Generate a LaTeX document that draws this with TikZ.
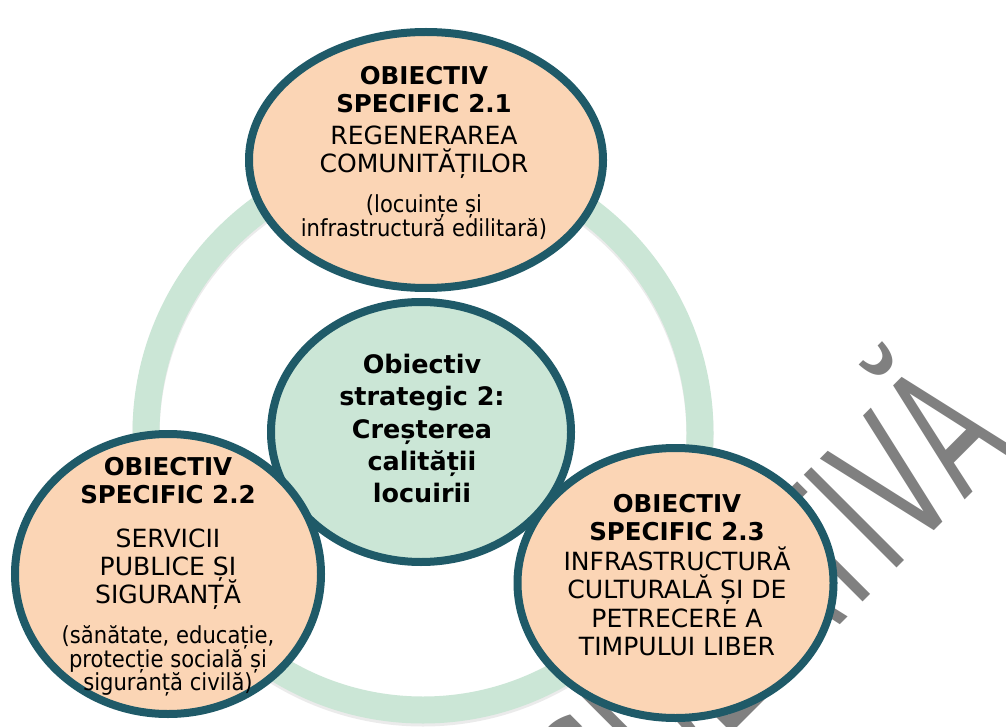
\documentclass[tikz,border=0pt]{standalone}
\usepackage{fontspec}
\usepackage{graphicx}
\setmainfont{DejaVu Sans}
\newfontfamily\condf{DejaVu Sans Condensed}
\usetikzlibrary{shapes.geometric,shadows}
\definecolor{bordc}{HTML}{1F5A68}
\definecolor{peach}{HTML}{FBD5B5}
\definecolor{mint}{HTML}{CBE6D6}
\definecolor{wmgray}{HTML}{808080}
\begin{document}
\begin{tikzpicture}[x=0.75pt,y=-0.75pt,
  blob/.style={ellipse, draw=bordc, line width=6pt, inner sep=0pt,
    drop shadow={shadow xshift=0.75pt, shadow yshift=-2pt, opacity=0.22, fill=black}},
  outerblob/.style={blob, fill=peach},
  coreblob/.style={blob, fill=mint},
  boldline/.style={anchor=base, inner sep=0pt, font=\bfseries\fontsize{18.4pt}{22pt}\selectfont},
  capline/.style={anchor=base, inner sep=0pt, font=\fontsize{18.8pt}{22pt}\selectfont},
  smallline/.style={anchor=base, inner sep=0pt, font=\condf\fontsize{17.6pt}{21pt}\selectfont},
  coreline/.style={anchor=base, inner sep=0pt, font=\bfseries\fontsize{19.1pt}{24pt}\selectfont},
]
\useasboundingbox (0,0) rectangle (1006,727);
\fill[white] (0,0) rectangle (1006,727);
% watermark (behind everything)
\begin{scope}
\clip (0,0) rectangle (1006,727);
\node[rotate=45, anchor=base east, inner sep=0pt, text=wmgray,
  font=\fontsize{135pt}{135pt}\selectfont] (wm) at (1017,448) {\scalebox{0.6}[1]{CONSULTATIVĂ}};
\end{scope}
% ring
\draw[black, opacity=0.08, line width=20.25pt] (423,436) circle[radius=277];
\draw[mint, line width=20.25pt] (423,433) circle[radius=277];
% circles
\node[coreblob, minimum width=225pt, minimum height=195pt] (core) at (421,432) {};
\node[outerblob, minimum width=265.5pt, minimum height=192pt] (os1) at (426,160) {};
\node[outerblob, minimum width=229.5pt, minimum height=210pt] (os2) at (168,574) {};
\node[outerblob, minimum width=237pt, minimum height=202.5pt] (os3) at (675.5,583) {};
% top texts
\foreach \yy/\txt [count=\i] in {85/OBIECTIV, 113/SPECIFIC 2.1}
  \node[boldline] (ta\i) at (424,\yy) {\txt};
\foreach \yy/\txt [count=\i] in {145/REGENERAREA, 173/COMUNITĂȚILOR}
  \node[capline] (tb\i) at (424,\yy) {\txt};
\foreach \yy/\txt [count=\i] in {213/(locuințe și, 237/infrastructură edilitară)}
  \node[smallline] (tc\i) at (424,\yy) {\txt};
% left texts
\foreach \yy/\txt [count=\i] in {475/OBIECTIV, 503/SPECIFIC 2.2}
  \node[boldline] (la\i) at (168,\yy) {\txt};
\foreach \yy/\txt [count=\i] in {547/SERVICII, 575/PUBLICE ȘI, 603/SIGURANȚĂ}
  \node[capline] (lb\i) at (168,\yy) {\txt};
\foreach \yy/\txt [count=\i] in {643/{(sănătate, educație,}, 667/protecție socială și, 690/siguranță civilă)}
  \node[smallline] (lc\i) at (168,\yy) {\txt};
% right texts
\foreach \yy/\txt [count=\i] in {512/OBIECTIV, 540/SPECIFIC 2.3}
  \node[boldline] (ra\i) at (677,\yy) {\txt};
\foreach \yy/\txt [count=\i] in {570/INFRASTRUCTURĂ, 598/CULTURALĂ ȘI DE, 627/PETRECERE A, 655/TIMPULUI LIBER}
  \node[capline] (rb\i) at (677,\yy) {\txt};
% core texts
\foreach \yy/\txt [count=\i] in {373/Obiectiv, 405/strategic 2:, 438/Creșterea, 470/calității, 502/locuirii}
  \node[coreline] (ca\i) at (422,\yy) {\txt};
\end{tikzpicture}
\end{document}
